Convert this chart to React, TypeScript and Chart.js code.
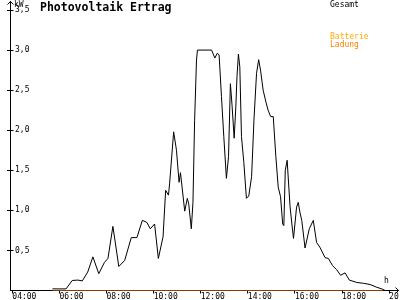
import React, { useEffect, useRef } from "react";
import { Chart, registerables } from "chart.js";

Chart.register(...registerables);

const TITLE = "Photovoltaik Ertrag";
const Y_UNIT = "kW";
const X_UNIT = "h";

const X_TICKS = [4, 6, 8, 10, 12, 14, 16, 18, 20];
const X_TICK_LABELS = ["04:00", "06:00", "08:00", "10:00", "12:00", "14:00", "16:00", "18:00", "20:00"];
const Y_TICKS = [0.5, 1.0, 1.5, 2.0, 2.5, 3.0, 3.5];

const SERIES_LABELS = ["Gesamt", "Batterie", "Ladung"];
const SERIES_COLORS = ["#000000", "#FFAA00", "#FF8000"];

const GESAMT_HOURS = [
  5.70, 6.28, 6.54, 6.78, 6.97, 7.20, 7.42, 7.67, 7.91, 8.06, 8.27, 8.52, 8.77, 9.05, 9.29, 9.52, 9.71, 9.86,
  10.04, 10.20, 10.40, 10.51, 10.63, 10.68, 10.85, 10.97, 11.08, 11.14, 11.32, 11.43, 11.49, 11.60, 11.67,
  11.74, 11.82, 11.86, 12.46, 12.60, 12.70, 12.78, 12.88, 12.98, 13.09, 13.18, 13.26, 13.33, 13.42, 13.49,
  13.54, 13.60, 13.66, 13.73, 13.83, 13.94, 14.04, 14.16, 14.26, 14.37, 14.46, 14.54, 14.65, 14.77, 14.86,
  14.97, 15.08, 15.19, 15.29, 15.39, 15.48, 15.53, 15.59, 15.67, 15.79, 15.87, 15.94, 16.07, 16.14, 16.21,
  16.29, 16.43, 16.61, 16.78, 16.92, 17.06, 17.28, 17.42, 17.60, 17.77, 17.94, 18.13, 18.31, 18.63, 18.91,
  19.19, 19.48, 19.69, 19.83,
];
const GESAMT_KW = [
  0.02, 0.02, 0.125, 0.13, 0.12, 0.23, 0.42, 0.21, 0.35, 0.40, 0.80, 0.30, 0.375, 0.66, 0.66, 0.875, 0.85, 0.77,
  0.83, 0.40, 0.67, 1.25, 1.19, 1.34, 1.98, 1.75, 1.35, 1.47, 0.99, 1.15, 1.08, 0.77, 1.10,
  2.125, 2.875, 3.0, 3.0, 2.9, 2.96, 2.94, 2.42, 1.92, 1.40, 1.67, 2.58, 2.31, 1.90, 2.29,
  2.67, 2.95, 2.79, 1.92, 1.6, 1.15, 1.18, 1.42, 2.125, 2.71, 2.88, 2.75, 2.5, 2.35, 2.25,
  2.17, 2.17, 1.67, 1.29, 1.17, 0.83, 0.81, 1.5, 1.625, 1.06, 0.83, 0.65, 1.04, 1.1, 0.98,
  0.875, 0.53, 0.77, 0.875, 0.60, 0.54, 0.41, 0.40, 0.31, 0.26, 0.19, 0.22, 0.13, 0.10, 0.09,
  0.075, 0.04, 0.02, 0,
];
const BATTERIE_HOURS: number[] = [];
const BATTERIE_KW: number[] = [];
const LADUNG_HOURS = [5.70, 19.75];
const LADUNG_KW = [0, 0];

const LEGEND_Y = [7, 38.5, 46.5];
const FONT = '"DejaVu Sans Mono", monospace';

const toPoints = (xs: number[], ys: number[]) => xs.map((x, i) => ({ x, y: ys[i] }));

const decor = {
  id: "decor",
  afterDraw(chart: any) {
    const ctx = chart.ctx as CanvasRenderingContext2D;
    const { top, right } = chart.chartArea;
    const ys = chart.scales.y;
    ctx.save();
    ctx.strokeStyle = "#000";
    ctx.lineWidth = 1;
    ctx.beginPath();
    // y axis extension + arrow
    ctx.moveTo(10.5, top);
    ctx.lineTo(10.5, 1);
    ctx.moveTo(7.5, 4.5);
    ctx.lineTo(10.5, 1.5);
    ctx.lineTo(13.5, 4.5);
    // x axis extension + arrow
    ctx.moveTo(right, 290.5);
    ctx.lineTo(398.5, 290.5);
    ctx.moveTo(395.5, 287.5);
    ctx.lineTo(398.5, 290.5);
    ctx.lineTo(395.5, 293.5);
    // inner part of y ticks
    ys.ticks.forEach((t: any) => {
      const y = Math.round(ys.getPixelForValue(t.value) - 0.5) + 0.5;
      ctx.moveTo(10.5, y);
      ctx.lineTo(13.5, y);
    });
    ctx.stroke();

    ctx.fillStyle = "#000";
    ctx.textBaseline = "alphabetic";
    ctx.textAlign = "left";
    ctx.font = `bold 11.5px ${FONT}`;
    ctx.fillText(TITLE, 40, 11);
    ctx.font = `8px ${FONT}`;
    ctx.fillText(Y_UNIT, 14, 7);
    ctx.fillText(X_UNIT, 384, 283);
    chart.data.datasets.forEach((ds: any, i: number) => {
      ctx.fillStyle = ds.borderColor;
      ctx.fillText(ds.label, 330, LEGEND_Y[i]);
    });
    ctx.restore();
  },
};

export default function App() {
  const ref = useRef<HTMLCanvasElement | null>(null);
  useEffect(() => {
    if (!ref.current) return;
    const datasets = [
      { label: SERIES_LABELS[0], data: toPoints(GESAMT_HOURS, GESAMT_KW), borderColor: SERIES_COLORS[0] },
      { label: SERIES_LABELS[1], data: toPoints(BATTERIE_HOURS, BATTERIE_KW), borderColor: SERIES_COLORS[1] },
      { label: SERIES_LABELS[2], data: toPoints(LADUNG_HOURS, LADUNG_KW), borderColor: SERIES_COLORS[2] },
    ].map((d) => ({ ...d, borderWidth: 1, pointRadius: 0, tension: 0, fill: false }));

    const chart = new Chart(ref.current, {
      type: "line",
      data: { datasets },
      options: {
        animation: false,
        responsive: false,
        layout: { padding: { top: 10, right: 5, left: 0, bottom: 0 } },
        plugins: { legend: { display: false }, tooltip: { enabled: false }, title: { display: false } },
        scales: {
          x: {
            type: "linear",
            min: 3.9,
            max: 20.25,
            afterBuildTicks: (s: any) => {
              s.ticks = X_TICKS.map((v) => ({ value: v }));
            },
            afterFit: (s: any) => {
              s.height = 9.5;
              s.paddingLeft = 0;
              s.paddingRight = 0;
            },
            border: { color: "#000", width: 1 },
            grid: { drawOnChartArea: false, color: "#000", tickLength: 3 },
            ticks: {
              autoSkip: false,
              maxRotation: 0,
              minRotation: 0,
              align: "start",
              padding: -1,
              color: "#000",
              font: { family: FONT, size: 8 },
              callback: (v: any) => {
                const i = X_TICKS.indexOf(Number(v));
                return i >= 0 ? X_TICK_LABELS[i] : "";
              },
            },
          },
          y: {
            type: "linear",
            min: 0,
            max: 3.5,
            afterBuildTicks: (s: any) => {
              s.ticks = Y_TICKS.map((v) => ({ value: v }));
            },
            afterFit: (s: any) => {
              s.width = 10;
              s.paddingTop = 0;
              s.paddingBottom = 0;
            },
            border: { color: "#000", width: 1 },
            grid: { drawOnChartArea: false, color: "#000", tickLength: 3 },
            ticks: {
              mirror: true,
              padding: 5,
              color: "#000",
              font: { family: FONT, size: 8 },
              callback: (v: any) => Number(v).toFixed(1).replace(".", ","),
            },
          },
        },
      },
      plugins: [decor],
    });
    return () => chart.destroy();
  }, []);

  return (
    <div style={{ position: "fixed", left: 0, top: 0, width: 400, height: 300, background: "#fff" }}>
      <canvas ref={ref} width={400} height={300} style={{ display: "block" }} />
    </div>
  );
}
